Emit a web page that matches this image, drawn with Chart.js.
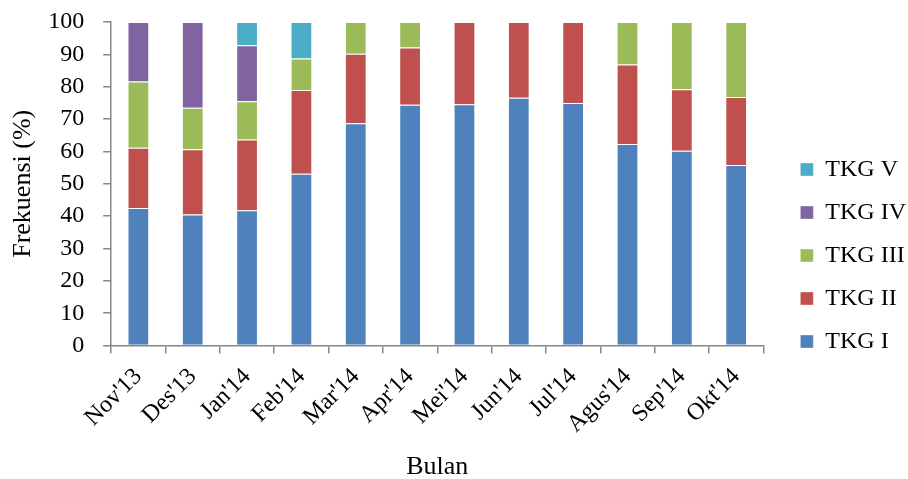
<!DOCTYPE html>
<html>
<head>
<meta charset="utf-8">
<script src="https://cdn.jsdelivr.net/npm/chart.js@4"></script>
<style>
  body { margin: 0; background: #fff; }
  #wrap { width: 908px; height: 479px; }
</style>
</head>
<body>
<div id="wrap"><canvas id="myChart"></canvas></div>
<script>
const months = ["Nov'13", "Des'13", "Jan'14", "Feb'14", "Mar'14", "Apr'14", "Mei'14", "Jun'14", "Jul'14", "Agus'14", "Sep'14", "Okt'14"];
const tkg1 = [42.5, 40.5, 41.8, 53.1, 68.7, 74.4, 74.6, 76.6, 75.0, 62.3, 60.2, 55.8];
const tkg2 = [18.6, 20.2, 21.9, 25.9, 21.5, 17.7, 25.4, 23.4, 25.0, 24.6, 19.0, 21.0];
const tkg3 = [20.5, 12.8, 11.8, 9.7, 9.8, 7.9, 0, 0, 0, 13.1, 20.8, 23.2];
const tkg4 = [18.4, 26.5, 17.3, 0, 0, 0, 0, 0, 0, 0, 0, 0];
const tkg5 = [0, 0, 7.2, 11.3, 0, 0, 0, 0, 0, 0, 0, 0];
const yTicks = [0, 10, 20, 30, 40, 50, 60, 70, 80, 90, 100];

const serif = "'Liberation Serif', 'Times New Roman', serif";
const axisGray = '#868686';

function series(label, data, color) {
  return {
    label: label,
    data: data,
    backgroundColor: color,
    borderColor: 'rgba(255,255,255,0.35)',
    borderWidth: 1,
    barPercentage: 0.8,
    categoryPercentage: 0.5
  };
}

// nudge the legend a bit down and right, like the original
const legendShift = {
  id: 'legendShift',
  afterLayout(chart) {
    const lg = chart.legend;
    lg.top += 14; lg.bottom += 14;
    lg.left += 18; lg.right += 18;
  }
};

let ctx = document.getElementById('myChart');
let myChart = new Chart(ctx, {
  type: 'bar',
  data: {
    labels: months,
    datasets: [
      series('TKG I', tkg1, '#4f81bd'),
      series('TKG II', tkg2, '#c0504d'),
      series('TKG III', tkg3, '#9bbb59'),
      series('TKG IV', tkg4, '#8064a2'),
      series('TKG V', tkg5, '#4bacc6')
    ]
  },
  plugins: [legendShift],
  options: {
    responsive: true,
    maintainAspectRatio: false,
    animation: false,
    layout: { padding: { top: 0, right: 10, left: 1, bottom: -4 } },
    plugins: {
      tooltip: { enabled: false },
      legend: {
        position: 'right',
        reverse: true,
        align: 'center',
        labels: {
          font: { family: serif, size: 24 },
          color: '#000',
          boxWidth: 13,
          boxHeight: 13,
          padding: 19
        }
      }
    },
    scales: {
      x: {
        stacked: true,
        border: { color: axisGray, width: 1.5 },
        grid: { display: true, drawOnChartArea: false, drawTicks: true, tickLength: 8, color: axisGray, lineWidth: 1.5 },
        ticks: {
          color: '#000',
          font: { family: serif, size: 24 },
          minRotation: 45,
          maxRotation: 45,
          padding: 9
        },
        title: {
          display: true,
          text: 'Bulan',
          color: '#000',
          font: { family: serif, size: 26 },
          padding: { top: 4, bottom: 0 }
        }
      },
      y: {
        stacked: true,
        min: 0,
        max: 100,
        afterBuildTicks: axis => { axis.ticks = yTicks.map(v => ({ value: v })); },
        afterFit: axis => { axis.paddingTop = 22; },
        border: { color: axisGray, width: 1.5 },
        grid: { display: true, drawOnChartArea: false, drawTicks: true, tickLength: 8, color: axisGray, lineWidth: 1.5 },
        ticks: {
          color: '#000',
          font: { family: serif, size: 24 },
          padding: 19,
          autoSkip: false
        },
        title: {
          display: true,
          text: 'Frekuensi (%)',
          color: '#000',
          font: { family: serif, size: 26 },
          padding: { top: 7, bottom: -10 }
        }
      }
    }
  }
});
</script>
</body>
</html>
